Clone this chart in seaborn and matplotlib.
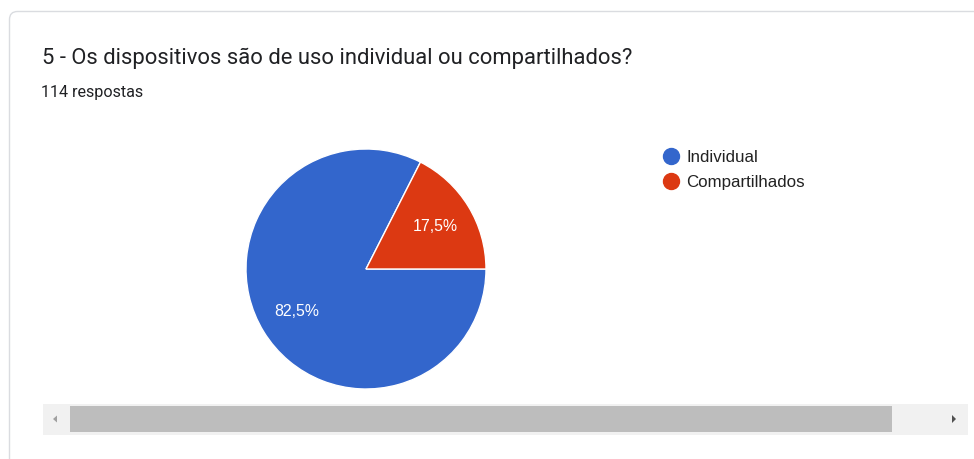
import matplotlib
matplotlib.use("Agg")
import matplotlib.pyplot as plt
from matplotlib.patches import FancyBboxPatch, Rectangle, Polygon
from matplotlib.lines import Line2D
import seaborn as sns

# Survey answers
title = "5 - Os dispositivos são de uso individual ou compartilhados?"
subtitle = "114 respostas"
categories = ["Individual", "Compartilhados"]
shares = [82.5, 17.5]
colors = ["#3366cc", "#dc3912"]

sns.set_theme(style="white")
plt.rcParams["font.family"] = ["Roboto", "DejaVu Sans"]
chart_font = ["Liberation Sans", "DejaVu Sans"]

W, H = 974, 459
fig = plt.figure(figsize=(W / 100, H / 100), dpi=100)
fig.patch.set_facecolor("white")

# Background layer in pixel coordinates (origin at top-left)
bg = fig.add_axes([0, 0, 1, 1])
bg.set_xlim(0, W)
bg.set_ylim(H, 0)
bg.axis("off")

# Card outline
card = FancyBboxPatch((9.5, 11.5), W + 20, H + 20,
                      boxstyle="round,pad=0,rounding_size=8",
                      facecolor="white", edgecolor="#dadce0", linewidth=1.0)
bg.add_patch(card)

bg.text(42, 64, title, fontsize=15.8, color="#202124", va="baseline", ha="left")
bg.text(41, 96.5, subtitle, fontsize=11.6, color="#202124", va="baseline", ha="left")

# Horizontal scrollbar
bg.add_patch(Rectangle((43, 404), 925, 31, facecolor="#f1f1f1", edgecolor="none"))
bg.add_patch(Rectangle((70, 406), 822, 26, facecolor="#bdbdbd", edgecolor="none"))
bg.add_patch(Polygon([[53, 419], [57, 415.5], [57, 422.5]], closed=True,
                     facecolor="#a0a0a0", edgecolor="none"))
bg.add_patch(Polygon([[956, 419], [952, 415], [952, 423]], closed=True,
                     facecolor="#505050", edgecolor="none"))

# Pie: center (366, 269), radius 120 px
cx, cy, r = 366, 269, 120
ax = fig.add_axes([(cx - r) / W, (H - cy - r) / H, 2 * r / W, 2 * r / H])
start = 360 * shares[1] / sum(shares)
wedges, _, autotexts = ax.pie(
    shares, colors=colors, startangle=start, counterclock=True,
    autopct=lambda p: f"{p:.1f}%".replace(".", ","), pctdistance=0.68,
    wedgeprops=dict(edgecolor="white", linewidth=1.0),
    textprops=dict(color="white", fontsize=11.4, family=chart_font),
)
ax.set_xlim(-1, 1)
ax.set_ylim(-1, 1)
ax.set_aspect("equal")
ax.axis("off")

handles = [Line2D([], [], marker="o", linestyle="none", markersize=11.5,
                  markerfacecolor=c, markeredgecolor=c) for c in colors]
fig.legend(handles, categories, loc="center left",
           bbox_to_anchor=(661 / W, 1 - 170 / H), frameon=False,
           prop=dict(family=chart_font, size=12.2),
           handletextpad=0.28, labelspacing=0.6,
           handlelength=1.2, borderpad=0, borderaxespad=0,
           labelcolor="#222222")

fig.savefig("out.png", dpi=100, facecolor="white")
